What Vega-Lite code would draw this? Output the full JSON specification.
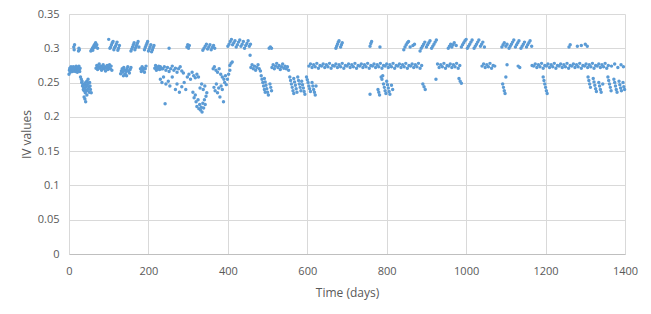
{
"$schema": "https://vega.github.io/schema/vega-lite/v6.json",
"width": 556, "height": 240,
"autosize": {"type": "none"},
"padding": {"left": 69, "top": 14, "right": 26, "bottom": 60},
"background": "white",
"config": {"view": {"stroke": null}, "font": "Open Sans"},
"data": {"values": [
{"t":0,"v":0.262},{"t":1,"v":0.268},{"t":2,"v":0.271},{"t":3,"v":0.265},{"t":4,"v":0.27},{"t":5,"v":0.273},{"t":6,"v":0.267},{"t":7,"v":0.27},{"t":8,"v":0.272},{"t":9,"v":0.266},{"t":10,"v":0.269},{"t":11,"v":0.273},{"t":13,"v":0.268},{"t":15,"v":0.271},{"t":16,"v":0.266},{"t":17,"v":0.27},{"t":18,"v":0.274},{"t":19,"v":0.268},{"t":20,"v":0.271},{"t":21,"v":0.265},{"t":22,"v":0.27},{"t":23,"v":0.272},{"t":24,"v":0.268},{"t":25,"v":0.274},{"t":26,"v":0.27},{"t":27,"v":0.266},{"t":28,"v":0.271},
{"t":12,"v":0.302},{"t":13,"v":0.298},{"t":14,"v":0.305},{"t":24,"v":0.296},{"t":25,"v":0.3},{"t":26,"v":0.298},
{"t":29,"v":0.258},{"t":31,"v":0.255},{"t":32,"v":0.25},{"t":33,"v":0.252},{"t":34,"v":0.245},{"t":35,"v":0.248},{"t":36,"v":0.24},{"t":37,"v":0.243},{"t":38,"v":0.238},{"t":39,"v":0.247},{"t":40,"v":0.241},{"t":41,"v":0.235},{"t":42,"v":0.25},{"t":43,"v":0.244},{"t":44,"v":0.238},{"t":45,"v":0.252},{"t":46,"v":0.246},{"t":47,"v":0.24},{"t":48,"v":0.255},{"t":49,"v":0.249},{"t":50,"v":0.243},{"t":51,"v":0.236},{"t":52,"v":0.25},{"t":53,"v":0.245},{"t":54,"v":0.24},{"t":45,"v":0.232},{"t":40,"v":0.226},{"t":42,"v":0.222},{"t":38,"v":0.229},{"t":56,"v":0.235},
{"t":55,"v":0.296},{"t":57,"v":0.298},{"t":59,"v":0.3},{"t":61,"v":0.302},{"t":63,"v":0.304},{"t":65,"v":0.306},{"t":67,"v":0.308},{"t":60,"v":0.297},{"t":64,"v":0.301},{"t":68,"v":0.303},{"t":70,"v":0.305},{"t":72,"v":0.3},
{"t":68,"v":0.271},{"t":70,"v":0.275},{"t":72,"v":0.269},{"t":74,"v":0.273},{"t":76,"v":0.277},{"t":78,"v":0.271},{"t":80,"v":0.274},{"t":82,"v":0.268},{"t":84,"v":0.272},{"t":86,"v":0.276},{"t":88,"v":0.27},{"t":90,"v":0.273},{"t":92,"v":0.267},{"t":94,"v":0.271},{"t":96,"v":0.275},{"t":98,"v":0.269},{"t":100,"v":0.272},{"t":102,"v":0.276},{"t":104,"v":0.27},{"t":106,"v":0.274},{"t":108,"v":0.268},
{"t":100,"v":0.313},{"t":103,"v":0.3},{"t":105,"v":0.302},{"t":107,"v":0.305},{"t":109,"v":0.308},{"t":111,"v":0.31},{"t":113,"v":0.298},{"t":115,"v":0.301},{"t":117,"v":0.303},{"t":119,"v":0.306},{"t":121,"v":0.309},{"t":123,"v":0.297},{"t":125,"v":0.3},{"t":127,"v":0.304},
{"t":130,"v":0.263},{"t":132,"v":0.267},{"t":134,"v":0.27},{"t":136,"v":0.265},{"t":138,"v":0.272},{"t":140,"v":0.268},{"t":142,"v":0.262},{"t":144,"v":0.266},{"t":146,"v":0.27},{"t":148,"v":0.273},{"t":150,"v":0.267},{"t":152,"v":0.264},{"t":154,"v":0.269},{"t":156,"v":0.272},{"t":137,"v":0.26},{"t":145,"v":0.26},
{"t":156,"v":0.296},{"t":158,"v":0.299},{"t":160,"v":0.302},{"t":162,"v":0.305},{"t":164,"v":0.308},{"t":166,"v":0.298},{"t":168,"v":0.301},{"t":170,"v":0.304},{"t":172,"v":0.307},{"t":174,"v":0.31},{"t":176,"v":0.302},
{"t":180,"v":0.27},{"t":182,"v":0.266},{"t":184,"v":0.273},{"t":186,"v":0.268},{"t":188,"v":0.271},{"t":190,"v":0.265},{"t":192,"v":0.27},{"t":194,"v":0.274},
{"t":190,"v":0.298},{"t":192,"v":0.301},{"t":194,"v":0.304},{"t":196,"v":0.307},{"t":198,"v":0.31},{"t":200,"v":0.296},{"t":202,"v":0.299},{"t":204,"v":0.302},{"t":206,"v":0.305},{"t":208,"v":0.295},{"t":210,"v":0.298},{"t":212,"v":0.301},{"t":214,"v":0.304},
{"t":216,"v":0.271},{"t":218,"v":0.275},{"t":220,"v":0.268},{"t":222,"v":0.272},{"t":224,"v":0.27},{"t":226,"v":0.274},{"t":228,"v":0.269},{"t":230,"v":0.273},{"t":233,"v":0.27},
{"t":236,"v":0.27},{"t":240,"v":0.273},{"t":244,"v":0.268},{"t":248,"v":0.272},{"t":252,"v":0.266},{"t":256,"v":0.27},{"t":260,"v":0.274},{"t":264,"v":0.268},{"t":268,"v":0.271},{"t":272,"v":0.265},{"t":276,"v":0.27},{"t":280,"v":0.273},{"t":284,"v":0.267},{"t":288,"v":0.264},
{"t":252,"v":0.3},{"t":297,"v":0.302},{"t":299,"v":0.305},{"t":301,"v":0.3},{"t":303,"v":0.304},
{"t":230,"v":0.255},{"t":234,"v":0.25},{"t":238,"v":0.258},{"t":242,"v":0.219},{"t":244,"v":0.248},{"t":250,"v":0.252},{"t":254,"v":0.245},{"t":260,"v":0.258},{"t":268,"v":0.24},{"t":272,"v":0.248},{"t":278,"v":0.236},{"t":284,"v":0.244},{"t":290,"v":0.25},{"t":294,"v":0.24},{"t":298,"v":0.258},{"t":302,"v":0.262},{"t":306,"v":0.255},{"t":310,"v":0.265},{"t":314,"v":0.26},{"t":318,"v":0.257},{"t":322,"v":0.262},{"t":326,"v":0.258},
{"t":312,"v":0.236},{"t":315,"v":0.228},{"t":318,"v":0.232},{"t":320,"v":0.222},{"t":322,"v":0.215},{"t":325,"v":0.225},{"t":327,"v":0.212},{"t":329,"v":0.218},{"t":331,"v":0.21},{"t":333,"v":0.214},{"t":335,"v":0.207},{"t":337,"v":0.22},{"t":339,"v":0.213},{"t":341,"v":0.225},{"t":343,"v":0.218},{"t":345,"v":0.23},{"t":347,"v":0.235},{"t":330,"v":0.242},{"t":334,"v":0.248},{"t":338,"v":0.24},{"t":342,"v":0.245},
{"t":337,"v":0.297},{"t":340,"v":0.3},{"t":343,"v":0.303},{"t":346,"v":0.306},{"t":349,"v":0.299},{"t":352,"v":0.302},{"t":355,"v":0.305},{"t":358,"v":0.298},{"t":361,"v":0.301},{"t":364,"v":0.304},{"t":367,"v":0.3},
{"t":363,"v":0.27},{"t":366,"v":0.273},{"t":370,"v":0.268},{"t":374,"v":0.265},{"t":378,"v":0.27},{"t":382,"v":0.262},{"t":386,"v":0.258},{"t":390,"v":0.255},{"t":394,"v":0.26},
{"t":365,"v":0.243},{"t":368,"v":0.238},{"t":371,"v":0.248},{"t":374,"v":0.235},{"t":377,"v":0.242},{"t":380,"v":0.229},{"t":383,"v":0.245},{"t":386,"v":0.24},{"t":389,"v":0.222},{"t":392,"v":0.25},{"t":396,"v":0.247},{"t":399,"v":0.255},{"t":402,"v":0.262},{"t":405,"v":0.268},{"t":405,"v":0.275},{"t":408,"v":0.278},{"t":411,"v":0.28},
{"t":400,"v":0.303},{"t":403,"v":0.306},{"t":406,"v":0.31},{"t":409,"v":0.313},{"t":412,"v":0.305},{"t":415,"v":0.308},{"t":418,"v":0.311},{"t":421,"v":0.302},{"t":424,"v":0.305},{"t":427,"v":0.309},{"t":430,"v":0.312},{"t":433,"v":0.303},{"t":436,"v":0.306},{"t":439,"v":0.31},{"t":442,"v":0.3},{"t":445,"v":0.304},{"t":448,"v":0.307},{"t":451,"v":0.311},{"t":454,"v":0.303},{"t":457,"v":0.306},
{"t":456,"v":0.29},{"t":458,"v":0.272},{"t":461,"v":0.276},{"t":464,"v":0.27},{"t":467,"v":0.274},{"t":470,"v":0.268},{"t":473,"v":0.272},{"t":476,"v":0.276},{"t":479,"v":0.27},{"t":482,"v":0.267},
{"t":484,"v":0.26},{"t":486,"v":0.255},{"t":488,"v":0.25},{"t":490,"v":0.245},{"t":492,"v":0.24},{"t":494,"v":0.236},{"t":492,"v":0.256},{"t":494,"v":0.251},{"t":496,"v":0.246},{"t":498,"v":0.241},{"t":500,"v":0.236},{"t":502,"v":0.232},{"t":506,"v":0.248},{"t":508,"v":0.243},{"t":510,"v":0.238},
{"t":504,"v":0.3},{"t":507,"v":0.302},{"t":510,"v":0.3},
{"t":511,"v":0.272},{"t":514,"v":0.276},{"t":517,"v":0.27},{"t":520,"v":0.274},{"t":523,"v":0.278},{"t":526,"v":0.272},{"t":529,"v":0.275},{"t":532,"v":0.269},{"t":535,"v":0.273},{"t":538,"v":0.277},{"t":541,"v":0.271},{"t":544,"v":0.274},{"t":547,"v":0.27},{"t":550,"v":0.273},{"t":553,"v":0.268},
{"t":556,"v":0.258},{"t":558,"v":0.253},{"t":560,"v":0.248},{"t":562,"v":0.243},{"t":564,"v":0.238},{"t":566,"v":0.234},{"t":566,"v":0.256},{"t":568,"v":0.251},{"t":570,"v":0.246},{"t":572,"v":0.241},{"t":574,"v":0.236},{"t":576,"v":0.258},{"t":578,"v":0.253},{"t":580,"v":0.248},{"t":582,"v":0.243},{"t":584,"v":0.238},{"t":586,"v":0.252},{"t":588,"v":0.247},{"t":590,"v":0.242},{"t":592,"v":0.237},{"t":594,"v":0.233},
{"t":598,"v":0.258},{"t":600,"v":0.254},{"t":602,"v":0.25},{"t":604,"v":0.245},{"t":606,"v":0.241},{"t":608,"v":0.237},{"t":612,"v":0.25},{"t":614,"v":0.245},{"t":616,"v":0.24},{"t":618,"v":0.236},{"t":620,"v":0.232},{"t":622,"v":0.245},
{"t":604,"v":0.274},{"t":608,"v":0.277},{"t":612,"v":0.272},{"t":616,"v":0.276},{"t":620,"v":0.273},{"t":624,"v":0.278},{"t":628,"v":0.271},{"t":632,"v":0.275},{"t":636,"v":0.274},{"t":640,"v":0.277},{"t":644,"v":0.272},{"t":648,"v":0.276},{"t":652,"v":0.273},{"t":656,"v":0.278},{"t":660,"v":0.271},{"t":664,"v":0.275},{"t":668,"v":0.274},{"t":672,"v":0.277},{"t":676,"v":0.272},{"t":680,"v":0.276},{"t":684,"v":0.273},{"t":688,"v":0.278},{"t":692,"v":0.271},{"t":696,"v":0.275},{"t":700,"v":0.274},{"t":704,"v":0.277},
{"t":708,"v":0.272},{"t":712,"v":0.276},{"t":716,"v":0.273},{"t":720,"v":0.278},{"t":724,"v":0.271},{"t":728,"v":0.275},{"t":732,"v":0.274},{"t":736,"v":0.277},{"t":740,"v":0.272},{"t":744,"v":0.276},{"t":748,"v":0.273},{"t":752,"v":0.278},{"t":756,"v":0.271},{"t":760,"v":0.275},{"t":764,"v":0.274},{"t":768,"v":0.277},{"t":772,"v":0.272},{"t":776,"v":0.276},{"t":780,"v":0.273},{"t":784,"v":0.278},{"t":788,"v":0.271},{"t":792,"v":0.275},{"t":796,"v":0.274},{"t":800,"v":0.277},{"t":804,"v":0.272},{"t":808,"v":0.276},{"t":812,"v":0.273},{"t":816,"v":0.278},{"t":820,"v":0.271},{"t":824,"v":0.275},{"t":828,"v":0.274},{"t":832,"v":0.277},{"t":836,"v":0.272},{"t":840,"v":0.276},{"t":844,"v":0.273},{"t":848,"v":0.278},{"t":852,"v":0.271},{"t":856,"v":0.275},{"t":860,"v":0.274},{"t":864,"v":0.277},{"t":868,"v":0.272},{"t":872,"v":0.276},{"t":876,"v":0.273},{"t":880,"v":0.278},{"t":884,"v":0.271},{"t":888,"v":0.275},
{"t":672,"v":0.3},{"t":674,"v":0.303},{"t":676,"v":0.306},{"t":678,"v":0.309},{"t":680,"v":0.311},{"t":684,"v":0.302},{"t":686,"v":0.305},{"t":688,"v":0.308},
{"t":758,"v":0.303},{"t":760,"v":0.307},{"t":762,"v":0.31},{"t":783,"v":0.302},{"t":758,"v":0.233},
{"t":778,"v":0.24},{"t":780,"v":0.236},{"t":782,"v":0.232},{"t":786,"v":0.258},{"t":788,"v":0.255},{"t":790,"v":0.26},{"t":792,"v":0.248},{"t":794,"v":0.243},{"t":796,"v":0.238},{"t":798,"v":0.234},{"t":800,"v":0.252},{"t":802,"v":0.247},{"t":804,"v":0.242},{"t":806,"v":0.237},{"t":808,"v":0.233},{"t":812,"v":0.246},{"t":815,"v":0.24},
{"t":843,"v":0.298},{"t":846,"v":0.302},{"t":849,"v":0.305},{"t":852,"v":0.308},{"t":855,"v":0.31},{"t":859,"v":0.302},{"t":866,"v":0.304},{"t":870,"v":0.306},
{"t":884,"v":0.296},{"t":887,"v":0.3},{"t":890,"v":0.303},{"t":893,"v":0.306},{"t":896,"v":0.309},{"t":900,"v":0.302},{"t":903,"v":0.305},{"t":906,"v":0.308},{"t":909,"v":0.311},{"t":913,"v":0.3},{"t":916,"v":0.303},{"t":919,"v":0.306},{"t":922,"v":0.309},{"t":925,"v":0.312},
{"t":891,"v":0.248},{"t":894,"v":0.244},{"t":897,"v":0.24},{"t":924,"v":0.255},
{"t":928,"v":0.277},{"t":932,"v":0.272},{"t":936,"v":0.276},{"t":940,"v":0.273},{"t":944,"v":0.278},{"t":948,"v":0.271},{"t":952,"v":0.275},{"t":956,"v":0.274},{"t":960,"v":0.277},{"t":964,"v":0.272},{"t":968,"v":0.276},{"t":972,"v":0.273},{"t":976,"v":0.278},{"t":980,"v":0.271},{"t":984,"v":0.275},
{"t":955,"v":0.3},{"t":958,"v":0.303},{"t":961,"v":0.306},{"t":964,"v":0.302},{"t":967,"v":0.305},{"t":970,"v":0.308},{"t":975,"v":0.304},
{"t":988,"v":0.302},{"t":991,"v":0.305},{"t":994,"v":0.308},{"t":997,"v":0.311},{"t":1000,"v":0.313},{"t":1003,"v":0.3},{"t":1006,"v":0.303},{"t":1009,"v":0.306},{"t":1012,"v":0.309},{"t":1015,"v":0.312},{"t":1020,"v":0.3},{"t":1023,"v":0.303},{"t":1026,"v":0.306},{"t":1029,"v":0.309},{"t":1032,"v":0.312},{"t":1036,"v":0.303},{"t":1039,"v":0.306},{"t":1042,"v":0.309},{"t":1046,"v":0.302},
{"t":982,"v":0.256},{"t":985,"v":0.252},{"t":988,"v":0.249},
{"t":1040,"v":0.274},{"t":1044,"v":0.277},{"t":1048,"v":0.272},{"t":1052,"v":0.276},{"t":1056,"v":0.273},{"t":1060,"v":0.278},{"t":1064,"v":0.271},{"t":1068,"v":0.275},{"t":1072,"v":0.274},{"t":1103,"v":0.276},{"t":1131,"v":0.274},{"t":1135,"v":0.272},
{"t":1090,"v":0.302},{"t":1093,"v":0.305},{"t":1096,"v":0.308},{"t":1100,"v":0.303},{"t":1103,"v":0.306},
{"t":1108,"v":0.3},{"t":1111,"v":0.303},{"t":1114,"v":0.306},{"t":1117,"v":0.309},{"t":1120,"v":0.312},{"t":1124,"v":0.302},{"t":1127,"v":0.305},{"t":1130,"v":0.308},{"t":1133,"v":0.311},{"t":1138,"v":0.3},{"t":1141,"v":0.303},{"t":1144,"v":0.306},{"t":1147,"v":0.309},{"t":1152,"v":0.302},{"t":1155,"v":0.305},{"t":1158,"v":0.308},{"t":1161,"v":0.311},{"t":1165,"v":0.303},
{"t":1100,"v":0.258},{"t":1092,"v":0.248},{"t":1094,"v":0.243},{"t":1096,"v":0.238},{"t":1098,"v":0.234},
{"t":1166,"v":0.275},{"t":1170,"v":0.274},{"t":1174,"v":0.277},{"t":1178,"v":0.272},{"t":1182,"v":0.276},{"t":1186,"v":0.273},{"t":1190,"v":0.278},{"t":1194,"v":0.271},{"t":1198,"v":0.275},{"t":1202,"v":0.274},{"t":1206,"v":0.277},{"t":1210,"v":0.272},{"t":1214,"v":0.276},{"t":1218,"v":0.273},{"t":1222,"v":0.278},{"t":1226,"v":0.271},{"t":1230,"v":0.275},{"t":1234,"v":0.274},{"t":1238,"v":0.277},{"t":1242,"v":0.272},{"t":1246,"v":0.276},{"t":1250,"v":0.273},{"t":1254,"v":0.278},{"t":1258,"v":0.271},{"t":1262,"v":0.275},{"t":1266,"v":0.274},{"t":1270,"v":0.277},{"t":1274,"v":0.272},{"t":1278,"v":0.276},{"t":1282,"v":0.273},{"t":1286,"v":0.278},{"t":1290,"v":0.271},{"t":1294,"v":0.275},{"t":1298,"v":0.274},{"t":1302,"v":0.277},{"t":1306,"v":0.272},{"t":1310,"v":0.276},{"t":1314,"v":0.273},{"t":1318,"v":0.278},{"t":1322,"v":0.271},{"t":1326,"v":0.275},{"t":1330,"v":0.274},{"t":1334,"v":0.277},{"t":1338,"v":0.272},{"t":1342,"v":0.276},{"t":1346,"v":0.273},{"t":1350,"v":0.278},{"t":1354,"v":0.271},{"t":1358,"v":0.275},{"t":1366,"v":0.274},{"t":1374,"v":0.277},{"t":1382,"v":0.272},{"t":1390,"v":0.276},{"t":1396,"v":0.273},
{"t":1194,"v":0.258},{"t":1196,"v":0.253},{"t":1198,"v":0.248},{"t":1200,"v":0.243},{"t":1202,"v":0.238},{"t":1204,"v":0.234},
{"t":1259,"v":0.302},{"t":1262,"v":0.305},{"t":1280,"v":0.303},{"t":1290,"v":0.304},{"t":1300,"v":0.306},{"t":1305,"v":0.303},
{"t":1307,"v":0.258},{"t":1309,"v":0.253},{"t":1311,"v":0.248},{"t":1313,"v":0.243},{"t":1320,"v":0.256},{"t":1322,"v":0.251},{"t":1324,"v":0.246},{"t":1326,"v":0.241},{"t":1328,"v":0.237},{"t":1334,"v":0.25},{"t":1336,"v":0.245},{"t":1338,"v":0.24},{"t":1340,"v":0.236},{"t":1344,"v":0.248},
{"t":1357,"v":0.258},{"t":1359,"v":0.253},{"t":1361,"v":0.248},{"t":1363,"v":0.243},{"t":1365,"v":0.238},{"t":1372,"v":0.255},{"t":1374,"v":0.25},{"t":1376,"v":0.245},{"t":1378,"v":0.24},{"t":1380,"v":0.236},{"t":1385,"v":0.252},{"t":1387,"v":0.247},{"t":1389,"v":0.242},{"t":1391,"v":0.238},{"t":1395,"v":0.25},{"t":1397,"v":0.244},{"t":1399,"v":0.24}
]},
"mark": {"type": "point", "filled": true, "size": 12, "color": "#5B9BD5", "opacity": 1},
"encoding": {
  "x": {"field": "t", "type": "quantitative",
        "scale": {"domain": [0, 1400], "nice": false, "zero": true},
        "axis": {"values": [0, 200, 400, 600, 800, 1000, 1200, 1400], "format": "d", "title": "Time (days)",
                 "grid": true, "gridColor": "#D9D9D9", "domainColor": "#BFBFBF", "ticks": false, "labelFlush": false,
                 "labelPadding": 11, "labelFontSize": 11, "labelColor": "#595959", "labelFont": "Open Sans",
                 "titleFontSize": 12, "titleFont": "Open Sans", "titleFontWeight": "normal", "titleColor": "#595959", "titlePadding": 11}},
  "y": {"field": "v", "type": "quantitative",
        "scale": {"domain": [0, 0.35], "nice": false, "zero": true},
        "axis": {"values": [0, 0.05, 0.1, 0.15, 0.2, 0.25, 0.3, 0.35], "format": "~f", "title": "IV values",
                 "grid": true, "gridColor": "#D9D9D9", "domainColor": "#D9D9D9", "ticks": false,
                 "labelPadding": 10, "labelFontSize": 11, "labelColor": "#595959", "labelFont": "Open Sans",
                 "titleFontSize": 12, "titleFont": "Open Sans", "titleFontWeight": "normal", "titleColor": "#595959", "titlePadding": 4}}
}
}
